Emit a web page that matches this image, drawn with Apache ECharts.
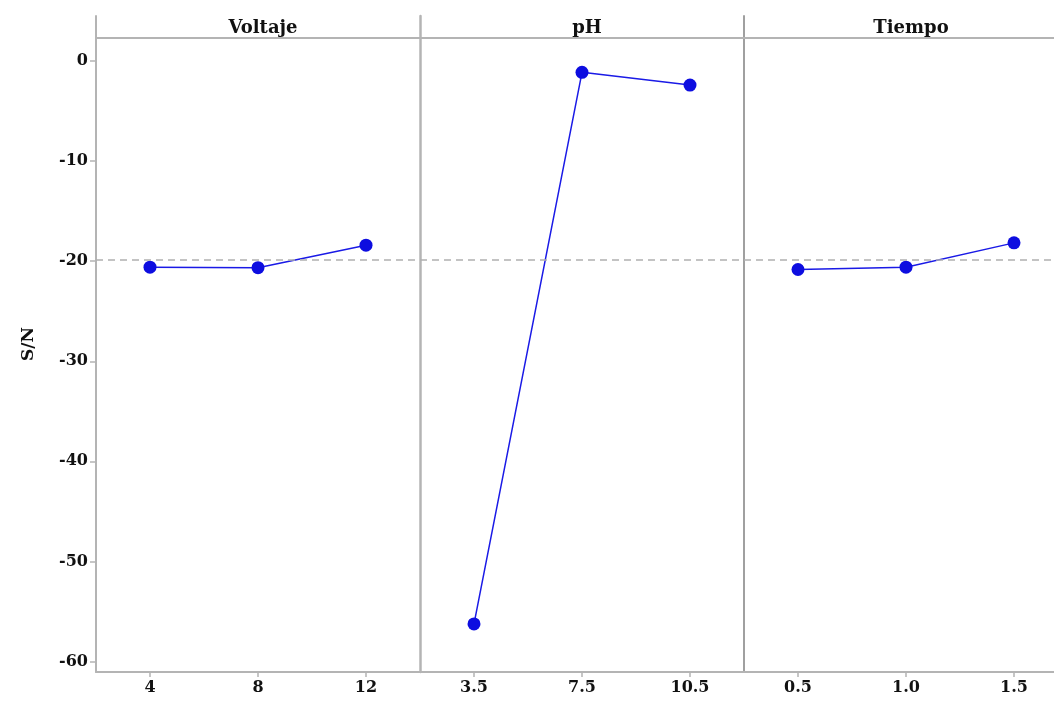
<!DOCTYPE html>
<html><head><meta charset="utf-8">
<script src="https://cdn.jsdelivr.net/npm/echarts@6/dist/echarts.min.js"></script>
<style>html,body{margin:0;padding:0;background:#fff;overflow:hidden;width:1054px;height:705px}#c{width:1070px;height:705px}</style>
</head><body><div id="c"></div>
<script>
const panelTitles = ['Voltaje', 'pH', 'Tiempo'];
const voltajeCats = ['4', '8', '12'];
const phCats = ['3.5', '7.5', '10.5'];
const tiempoCats = ['0.5', '1.0', '1.5'];
const voltajeSN = [-20.6, -20.65, -18.4];
const phSN = [-56.25, -1.13, -2.4];
const tiempoSN = [-20.83, -20.6, -18.17];
const meanSN = -19.9;
const yTicks = [0, -10, -20, -30, -40, -50, -60];
const yName = 'S/N';

const FONT = 'DejaVu Serif';
const gray = '#b4b4b4';
const grids = [
  {left: 96, width: 324, top: 16, bottom: 33},
  {left: 420, width: 324, top: 16, bottom: 33},
  {left: 744, width: 324, top: 16, bottom: 33}
];
const catsList = [voltajeCats, phCats, tiempoCats];
const dataList = [voltajeSN, phSN, tiempoSN];
const yMin = -61.05, yMax = 4.5, headerY = 2.3;

const option = {
  animation: false,
  backgroundColor: '#fff',
  title: panelTitles.map((t, i) => ({
    text: t,
    left: grids[i].left + grids[i].width / 2,
    top: 14,
    textAlign: 'center',
    textStyle: {fontFamily: FONT, fontWeight: 'bold', fontSize: 18, color: '#111'}
  })),
  grid: grids,
  xAxis: catsList.map((c, i) => ({
    type: 'category', gridIndex: i, data: c, boundaryGap: true,
    axisLine: {show: true, onZero: false, lineStyle: {color: gray, width: 2}},
    axisTick: {show: true, alignWithLabel: true, length: 5, lineStyle: {color: gray, width: 1.5}},
    axisLabel: {fontFamily: FONT, fontWeight: 'bold', fontSize: 16, color: '#111', margin: 8},
    splitLine: {show: false}
  })),
  yAxis: [0, 1, 2].map(i => ({
    type: 'value', gridIndex: i, min: yMin, max: yMax,
    name: i === 0 ? yName : '', nameLocation: 'middle', nameGap: 59, nameRotate: 90,
    nameTextStyle: {fontFamily: FONT, fontWeight: 'bold', fontSize: 17, color: '#111'},
    axisLine: {show: true, lineStyle: {color: i === 2 ? '#a0a0a0' : gray, width: i === 1 ? 2.5 : 2}},
    axisTick: {show: i === 0, length: 6, customValues: yTicks, lineStyle: {color: gray, width: 1.5}},
    axisLabel: {show: i === 0, customValues: yTicks, fontFamily: FONT, fontWeight: 'bold', fontSize: 16, color: '#111', margin: 8},
    splitLine: {show: false}
  })),
  series: dataList.map((d, i) => ({
    type: 'line', xAxisIndex: i, yAxisIndex: i, data: d,
    symbol: 'circle', symbolSize: 13,
    lineStyle: {color: '#1a1ae6', width: 1.5},
    itemStyle: {color: '#0d0de0'},
    markLine: {
      silent: true, symbol: 'none', label: {show: false},
      data: [
        {yAxis: meanSN, lineStyle: {color: '#b0b0b0', type: [7, 5], width: 1.5}},
        {yAxis: headerY, lineStyle: {color: gray, type: 'solid', width: 2}}
      ]
    }
  }))
};
echarts.init(document.getElementById('c')).setOption(option);
</script></body></html>
